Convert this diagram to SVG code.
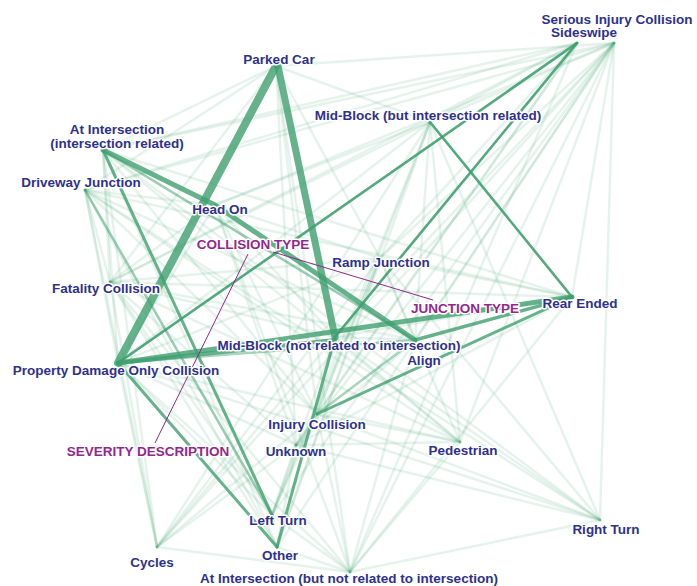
<svg xmlns="http://www.w3.org/2000/svg" width="697" height="586" viewBox="0 0 697 586">
<style>
.bg{fill:#fff}
#edges path{stroke:#3f9f6f;stroke-linecap:round;fill:none}
#edges .f{stroke-opacity:.13;stroke-width:2.5}
#edges .m{stroke-opacity:.45;stroke-width:2.5}
#edges .s{stroke-opacity:.8}
.p{stroke:#93278f;stroke-width:1;fill:none}
text{font-family:"Liberation Sans",Arial,sans-serif;font-weight:bold;font-size:13.5px;text-anchor:middle;fill:#2e3192;paint-order:stroke;stroke:#fff;stroke-width:3px;stroke-linejoin:round}
.c text{fill:#93278f}
</style>
<rect class="bg" width="697" height="586"/>
<g id="edges">
<!-- faint: collision x severity -->
<path class="f" d="M276 66L614 43"/><path class="f" d="M276 66L110 282"/><path class="f" d="M276 66L317 414"/>
<path class="f" d="M577 43L110 282"/><path class="f" d="M577 43L317 414"/>
<path class="f" d="M215 205L614 43"/><path class="f" d="M215 205L110 282"/><path class="f" d="M215 205L118 363"/><path class="f" d="M215 205L317 414"/>
<path class="f" d="M572 297L614 43"/><path class="f" d="M572 297L110 282"/>
<path class="f" d="M415 340L614 43"/><path class="f" d="M415 340L110 282"/>
<path class="f" d="M460 442L614 43"/><path class="f" d="M460 442L110 282"/><path class="f" d="M460 442L118 363"/><path class="f" d="M460 442L317 414"/>
<path class="f" d="M272 515L614 43"/><path class="f" d="M272 515L110 282"/><path class="f" d="M272 515L118 363"/><path class="f" d="M272 515L317 414"/>
<path class="f" d="M600 520L614 43"/><path class="f" d="M600 520L118 363"/><path class="f" d="M600 520L317 414"/>
<path class="f" d="M157 547L614 43"/><path class="f" d="M157 547L110 282"/><path class="f" d="M157 547L118 363"/><path class="f" d="M157 547L317 414"/>
<path class="f" d="M277 547L614 43"/><path class="f" d="M277 547L110 282"/>
<!-- faint: junction x severity -->
<path class="f" d="M103 150L614 43"/><path class="f" d="M103 150L110 282"/><path class="f" d="M103 150L118 363"/><path class="f" d="M103 150L317 414"/>
<path class="f" d="M85 190L614 43"/><path class="f" d="M85 190L110 282"/><path class="f" d="M85 190L118 363"/><path class="f" d="M85 190L317 414"/>
<path class="f" d="M430 122L614 43"/><path class="f" d="M430 122L110 282"/><path class="f" d="M430 122L118 363"/><path class="f" d="M430 122L317 414"/>
<path class="f" d="M335 337L614 43"/><path class="f" d="M335 337L110 282"/><path class="f" d="M335 337L317 414"/>
<path class="f" d="M380 258L614 43"/><path class="f" d="M380 258L118 363"/><path class="f" d="M380 258L317 414"/><path class="f" d="M380 258L110 282"/>
<path class="f" d="M350 572L614 43"/><path class="f" d="M350 572L118 363"/><path class="f" d="M350 572L317 414"/><path class="f" d="M350 572L110 282"/>
<path class="f" d="M296 445L614 43"/><path class="f" d="M296 445L118 363"/><path class="f" d="M296 445L317 414"/><path class="f" d="M296 445L110 282"/>
<!-- faint: collision x junction -->
<path class="f" d="M276 66L103 150"/><path class="f" d="M276 66L85 190"/><path class="f" d="M276 66L430 122"/><path class="f" d="M276 66L380 258"/><path class="f" d="M276 66L350 572"/><path class="f" d="M276 66L296 445"/>
<path class="f" d="M577 43L103 150"/><path class="f" d="M577 43L85 190"/><path class="f" d="M577 43L430 122"/><path class="f" d="M577 43L380 258"/><path class="f" d="M577 43L350 572"/><path class="f" d="M577 43L296 445"/>
<path class="f" d="M215 205L85 190"/><path class="f" d="M215 205L430 122"/><path class="f" d="M215 205L335 337"/><path class="f" d="M215 205L380 258"/><path class="f" d="M215 205L350 572"/><path class="f" d="M215 205L296 445"/>
<path class="f" d="M572 297L103 150"/><path class="f" d="M572 297L85 190"/><path class="f" d="M572 297L335 337"/><path class="f" d="M572 297L380 258"/><path class="f" d="M572 297L350 572"/><path class="f" d="M572 297L296 445"/>
<path class="f" d="M415 340L103 150"/><path class="f" d="M415 340L85 190"/><path class="f" d="M415 340L430 122"/><path class="f" d="M415 340L335 337"/><path class="f" d="M415 340L380 258"/><path class="f" d="M415 340L350 572"/><path class="f" d="M415 340L296 445"/>
<path class="f" d="M460 442L103 150"/><path class="f" d="M460 442L85 190"/><path class="f" d="M460 442L430 122"/><path class="f" d="M460 442L335 337"/><path class="f" d="M460 442L380 258"/><path class="f" d="M460 442L350 572"/><path class="f" d="M460 442L296 445"/>
<path class="f" d="M272 515L85 190"/><path class="f" d="M272 515L430 122"/><path class="f" d="M272 515L335 337"/><path class="f" d="M272 515L380 258"/><path class="f" d="M272 515L350 572"/><path class="f" d="M272 515L296 445"/>
<path class="f" d="M600 520L103 150"/><path class="f" d="M600 520L85 190"/><path class="f" d="M600 520L430 122"/><path class="f" d="M600 520L335 337"/><path class="f" d="M600 520L380 258"/><path class="f" d="M600 520L350 572"/><path class="f" d="M600 520L296 445"/>
<path class="f" d="M157 547L103 150"/><path class="f" d="M157 547L85 190"/><path class="f" d="M157 547L430 122"/><path class="f" d="M157 547L335 337"/><path class="f" d="M157 547L380 258"/><path class="f" d="M157 547L350 572"/><path class="f" d="M157 547L296 445"/>
<path class="f" d="M277 547L103 150"/><path class="f" d="M277 547L85 190"/><path class="f" d="M277 547L430 122"/><path class="f" d="M277 547L380 258"/><path class="f" d="M277 547L350 572"/><path class="f" d="M277 547L296 445"/>
<!-- medium -->
<path class="m" d="M577 43L118 363"/>
<path class="m" d="M577 43L335 337"/>
<path class="m" d="M430 122L572 297"/>
<path class="m" d="M415 340L118 363"/>
<path class="m" d="M415 340L317 414"/>
<path class="m" d="M85 190L272 515"/>
<path class="m" d="M103 150L415 340"/>
<!-- strong -->
<path class="s" style="stroke-width:8" d="M276 66L118 363"/>
<path class="s" style="stroke-width:7" d="M278 66L335 337"/>
<path class="s" style="stroke-width:5" d="M103 150L215 205L415 340"/>
<path class="s" style="stroke-width:5" d="M118 363L572 297"/>
<path class="s" style="stroke-width:4" d="M118 363L335 340"/>
<path class="s" style="stroke-width:3.5" d="M415 340L572 297"/>
<path class="s" style="stroke-width:3" d="M572 297L317 414"/>
<path class="s" style="stroke-width:3" d="M335 337L277 547"/>
<path class="s" style="stroke-width:3" d="M118 363L277 547"/>
<path class="s" style="stroke-width:3" d="M103 150L272 515"/>
<path class="s" style="stroke-width:2.5" d="M577 43L335 337"/>
<path class="s" style="stroke-width:2.5" d="M430 122L572 297"/>
<path class="s" style="stroke-width:2.5" d="M577 43L118 363"/>
</g>
<g id="category-links">
<path class="p" d="M273 252L433 300"/>
<path class="p" d="M248 254L155 443"/>
</g>
<g id="node-serious-injury"><text x="617" y="24">Serious Injury Collision</text></g>
<g id="node-sideswipe"><text x="584" y="37">Sideswipe</text></g>
<g id="node-parked-car"><text x="279" y="64">Parked Car</text></g>
<g id="node-midblock-int"><text x="428" y="120">Mid-Block (but intersection related)</text></g>
<g id="node-at-intersection"><text x="117" y="134">At Intersection</text><text x="117" y="148">(intersection related)</text></g>
<g id="node-driveway"><text x="81" y="187">Driveway Junction</text></g>
<g id="node-head-on"><text x="220" y="214">Head On</text></g>
<g id="cat-collision" class="c"><text x="253" y="249">COLLISION TYPE</text></g>
<g id="node-ramp"><text x="381" y="267">Ramp Junction</text></g>
<g id="node-fatality"><text x="106" y="293">Fatality Collision</text></g>
<g id="cat-junction" class="c"><text x="465" y="313">JUNCTION TYPE</text></g>
<g id="node-rear-ended"><text x="580" y="308">Rear Ended</text></g>
<g id="node-midblock-nr"><text x="339" y="350">Mid-Block (not related to intersection)</text></g>
<g id="node-align"><text x="424" y="365">Align</text></g>
<g id="node-pdo"><text x="116" y="375">Property Damage Only Collision</text></g>
<g id="node-injury"><text x="317" y="429">Injury Collision</text></g>
<g id="node-unknown"><text x="296" y="456">Unknown</text></g>
<g id="node-pedestrian"><text x="463" y="455">Pedestrian</text></g>
<g id="cat-severity" class="c"><text x="148" y="456">SEVERITY DESCRIPTION</text></g>
<g id="node-left-turn"><text x="278" y="525">Left Turn</text></g>
<g id="node-right-turn"><text x="606" y="534">Right Turn</text></g>
<g id="node-cycles"><text x="152" y="567">Cycles</text></g>
<g id="node-other"><text x="280" y="560">Other</text></g>
<g id="node-at-int-nr"><text x="349" y="583">At Intersection (but not related to intersection)</text></g>
</svg>
